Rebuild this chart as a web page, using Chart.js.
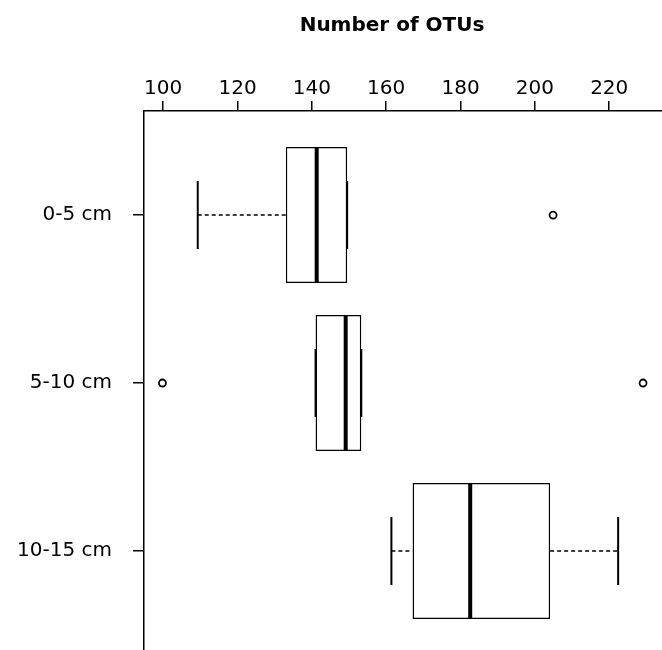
<!DOCTYPE html>
<html>
<head>
<meta charset="utf-8">
<script src="https://cdn.jsdelivr.net/npm/chart.js@4/dist/chart.umd.min.js"></script>
<style>
  html, body { margin: 0; padding: 0; background: #fff; overflow: hidden; }
  canvas { display: block; }
</style>
</head>
<body>
<canvas id="chart" width="662" height="650"></canvas>
<script>
// boxplot stats per depth
const depths = ['0-5 cm', '5-10 cm', '10-15 cm'];
const positions = [1, 2, 3];
const whiskerLow = [109.3, 141.0, 161.4];
const q1 = [133.0, 141.0, 167.1];
const median = [141.3, 149.1, 182.6];
const q3 = [149.5, 153.3, 204.1];
const whiskerHigh = [149.5, 153.3, 222.4];
const outliers = [
    { x: 204.9, y: 1 },
    { x: 99.8, y: 2 },
    { x: 229.1, y: 2 }
];
const xTicks = [100, 120, 140, 160, 180, 200, 220];

const FONT = 'DejaVu Sans';

// medians, whiskers and caps drawn with the chart's own scales
const boxExtras = {
    id: 'boxExtras',
    afterDatasetsDraw(chart) {
        const ctx = chart.ctx;
        const xs = chart.scales.x;
        const ys = chart.scales.y;
        const meta = chart.getDatasetMeta(0);
        ctx.save();
        ctx.strokeStyle = '#000';
        positions.forEach((p, i) => {
            const y = ys.getPixelForValue(p);
            const half = meta.data[i].height / 2;
            const cap = half / 2;

            // dashed whiskers
            ctx.lineWidth = 1.5;
            ctx.setLineDash([4, 3]);
            ctx.beginPath();
            ctx.moveTo(xs.getPixelForValue(whiskerLow[i]), y);
            ctx.lineTo(xs.getPixelForValue(q1[i]), y);
            ctx.moveTo(xs.getPixelForValue(q3[i]), y);
            ctx.lineTo(xs.getPixelForValue(whiskerHigh[i]), y);
            ctx.stroke();

            // caps
            ctx.setLineDash([]);
            ctx.lineWidth = 2;
            ctx.beginPath();
            [whiskerLow[i], whiskerHigh[i]].forEach(v => {
                const x = xs.getPixelForValue(v);
                ctx.moveTo(x, y - cap);
                ctx.lineTo(x, y + cap);
            });
            ctx.stroke();

            // median
            ctx.lineWidth = 4;
            ctx.beginPath();
            const mx = xs.getPixelForValue(median[i]);
            ctx.moveTo(mx, y - half);
            ctx.lineTo(mx, y + half);
            ctx.stroke();
        });
        ctx.restore();
    },
    afterDraw(chart) {
        const ctx = chart.ctx;
        ctx.save();
        ctx.fillStyle = '#000';
        ctx.font = 'bold 20px ' + FONT;
        ctx.textAlign = 'center';
        ctx.textBaseline = 'middle';
        ctx.fillText('Number of OTUs', 392, 26);
        ctx.restore();
    }
};

new Chart(document.getElementById('chart'), {
    data: {
        datasets: [
            {
                type: 'bar',
                label: 'box',
                data: positions.map((p, i) => ({ x: [q1[i], q3[i]], y: p })),
                backgroundColor: '#fff',
                borderColor: '#000',
                borderWidth: 1.5,
                borderSkipped: false,
                barPercentage: 0.81,
                categoryPercentage: 1,
                order: 2
            },
            {
                type: 'scatter',
                label: 'outliers',
                data: outliers,
                pointStyle: 'circle',
                pointRadius: 3.5,
                borderWidth: 1.8,
                borderColor: '#000',
                backgroundColor: '#fff',
                order: 1
            }
        ]
    },
    options: {
        responsive: false,
        animation: false,
        devicePixelRatio: 1,
        indexAxis: 'y',
        layout: { padding: 0, autoPadding: false },
        plugins: {
            legend: { display: false },
            tooltip: { enabled: false },
            title: { display: false }
        },
        scales: {
            x: {
                type: 'linear',
                position: 'top',
                offset: false,
                min: 94.84,
                max: 234.2,
                afterBuildTicks: s => { s.ticks = xTicks.map(v => ({ value: v })); },
                afterFit: s => {
                    s.height = 111;
                    s.paddingLeft = 0;
                    s.paddingRight = 0;
                },
                ticks: {
                    color: '#000',
                    font: { family: FONT, size: 20 },
                    padding: 0,
                    maxRotation: 0
                },
                grid: {
                    offset: false,
                    drawOnChartArea: false,
                    tickLength: 10,
                    color: '#000',
                    lineWidth: 1.5
                },
                border: { color: '#000', width: 1.5 }
            },
            y: {
                type: 'linear',
                reverse: true,
                offset: false,
                min: 0.38,
                max: 3.59,
                afterBuildTicks: s => { s.ticks = positions.map(v => ({ value: v })); },
                afterFit: s => {
                    s.width = 144;
                    s.paddingTop = 0;
                    s.paddingBottom = 0;
                },
                ticks: {
                    color: '#000',
                    font: { family: FONT, size: 20 },
                    padding: 21,
                    callback: v => depths[positions.indexOf(v)] ?? ''
                },
                grid: {
                    offset: false,
                    drawOnChartArea: false,
                    tickLength: 11,
                    color: '#000',
                    lineWidth: 1.5
                },
                border: { color: '#000', width: 1.5 }
            }
        }
    },
    plugins: [boxExtras]
});
</script>
</body>
</html>
